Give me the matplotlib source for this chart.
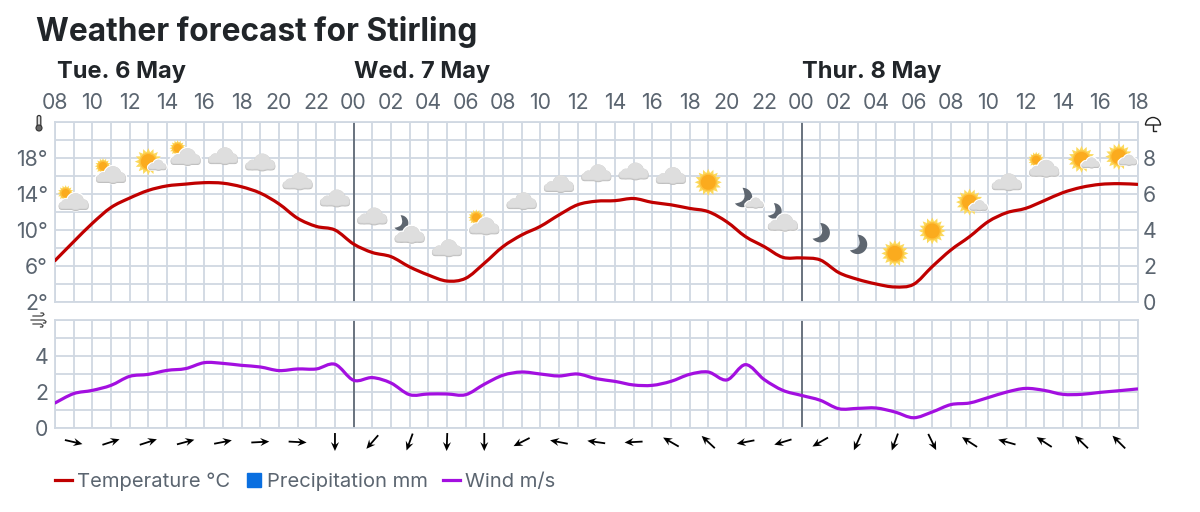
import numpy as np
import matplotlib
matplotlib.use('Agg')
import matplotlib.pyplot as plt
from matplotlib.lines import Line2D
from matplotlib.path import Path
from matplotlib.patches import PathPatch, Circle, FancyBboxPatch, Wedge
from matplotlib.transforms import Affine2D

plt.rcParams['font.family'] = ['Inter', 'DejaVu Sans']

# hourly values, Tue 08:00 to Thu 18:00
temperature = [6.6, 8.7, 10.74, 12.5, 13.55, 14.4, 14.9, 15.1, 15.26, 15.2, 14.8, 14.1, 12.9, 11.3, 10.4, 10.0,
               8.44, 7.5, 7.04, 5.9, 5.0, 4.33, 4.63, 6.3, 8.15, 9.44, 10.4, 11.67, 12.8, 13.2, 13.26, 13.5,
               13.07, 12.8, 12.4, 12.04, 10.9, 9.26, 8.15, 6.96, 6.9,
               6.67, 5.26, 4.52, 4.0, 3.67, 3.96, 5.93, 7.78, 9.26, 10.93, 11.93, 12.4, 13.26, 14.15, 14.74,
               15.07, 15.15, 15.07]
wind = [1.39, 1.91, 2.09, 2.37, 2.87, 2.98, 3.2, 3.3, 3.63, 3.59, 3.48, 3.39, 3.19, 3.28, 3.28, 3.54,
        2.65, 2.8, 2.5, 1.85, 1.89, 1.89, 1.85, 2.43, 2.93, 3.11, 3.0, 2.89, 3.0, 2.74, 2.59, 2.39,
        2.37, 2.59, 2.98, 3.11, 2.67, 3.52, 2.69, 2.09, 1.81,
        1.54, 1.07, 1.09, 1.11, 0.89, 0.57, 0.89, 1.3, 1.39, 1.69, 2.0, 2.2, 2.09, 1.87, 1.87,
        1.98, 2.07, 2.17]

hour_labels = ['08', '10', '12', '14', '16', '18', '20', '22', '00', '02', '04', '06', '08', '10', '12', '14',
               '16', '18', '20', '22', '00', '02', '04', '06', '08', '10', '12', '14', '16', '18']
day_names = ['Tue. 6 May', 'Wed. 7 May', 'Thur. 8 May']
midnights = [16, 40]

# one symbol and one arrow every second hour, starting 09:00
symbols = ['sun_cloud', 'sun_cloud', 'big_sun_cloud', 'sun_cloud', 'cloud', 'cloud', 'cloud', 'cloud',
           'cloud', 'moon_cloud', 'cloud', 'sun_cloud', 'cloud', 'cloud', 'cloud', 'cloud', 'cloud', 'sun',
           'big_moon_cloud', 'moon_cloud', 'moon', 'moon', 'sun', 'sun', 'big_sun_cloud', 'cloud',
           'sun_cloud', 'big_sun_cloud', 'big_sun_cloud']
symbol_levels = [13.2, 16.2, 17.6, 18.2, 18.3, 17.6, 15.5, 13.6, 11.6, 9.56, 8.07, 10.5, 13.3, 15.2, 16.4,
                 16.6, 16.1, 15.3, 13.5, 10.9, 9.7, 8.4, 7.4, 9.9, 13.1, 15.4, 16.9, 17.85, 18.15]
wind_dirs = [-13, 18, 18, 15, 11, 3, -3, -90, 229, 250, 268, 270, 207, 169, 172, 183, 150, 137, 191, 197,
             210, 246, 250, 296, 147, 164, 147, 136, 135]

RED = '#c00000'
PURPLE = '#a30fe0'
BLUE = '#0a6fe0'
GRID = '#d0d8e2'
TEXT = '#5b6570'
DARK = '#212529'

W, H = 1200, 512
fig = plt.figure(figsize=(W / 100, H / 100), dpi=100)
pix = Affine2D().scale(1, -1).translate(0, H)  # image pixel coords


def box(top, bottom):
    return [55 / W, 1 - bottom / H, 1082.5 / W, (bottom - top) / H]


def smooth(x, y):
    """Catmull-Rom through the read points, as bezier segments"""
    pts = np.column_stack([x, y])
    verts = [pts[0]]
    for i in range(len(pts) - 1):
        p0 = pts[max(i - 1, 0)]
        p3 = pts[min(i + 2, len(pts) - 1)]
        verts += [pts[i] + (pts[i + 1] - p0) / 6, pts[i + 1] - (p3 - pts[i]) / 6, pts[i + 1]]
    codes = [Path.MOVETO] + [Path.CURVE4] * (len(verts) - 1)
    return Path(verts, codes)


def setup_grid(ax, ylim, step):
    ax.set_xlim(0, 58)
    ax.set_ylim(*ylim)
    ax.set_xticks(np.arange(0, 59))
    ax.set_yticks(np.arange(ylim[0], ylim[1] + step, step))
    ax.grid(True, color=GRID, lw=1.3)
    ax.set_axisbelow(True)
    ax.tick_params(length=0, labelcolor=TEXT, labelsize=15.3)
    for s in ax.spines.values():
        s.set_color(GRID)
        s.set_linewidth(1.3)
    for m in midnights:
        ax.axvline(m, color='#4d5763', lw=1.1, zorder=1.5)


def add(ax, patch):
    patch.set_clip_on(False)
    ax.add_artist(patch)


def cloud_shape(ax, tt, col, edge=0):
    ec = col if edge else 'none'
    add(ax, FancyBboxPatch((-15, -8), 30, 7, boxstyle='round,pad=0,rounding_size=3.5', fc=col, ec=ec, lw=edge,
                           transform=tt))
    add(ax, Circle((2, -0.5), 8.5, fc=col, ec=ec, lw=edge, transform=tt))
    add(ax, Circle((-8, -3), 4.8, fc=col, ec=ec, lw=edge, transform=tt))
    add(ax, Circle((10, -3), 4.8, fc=col, ec=ec, lw=edge, transform=tt))


def draw_cloud(ax, t, k=1.0, halo=False):
    if halo:
        cloud_shape(ax, Affine2D().scale(k) + t, 'white', edge=2)
    cloud_shape(ax, Affine2D().scale(k).translate(0, -0.8) + t, '#bcbcbc')
    cloud_shape(ax, Affine2D().scale(k) + t, '#d3d3d3')
    cloud_shape(ax, Affine2D().scale(k * 0.95).translate(0, 0.4) + t, '#dedede')


def draw_sun(ax, t, k=1.0):
    ang = np.linspace(0, 2 * np.pi, 33)[:-1]
    rad = np.where(np.arange(32) % 2 == 0, 13.5, 9.5)
    star = np.column_stack([rad * np.cos(ang), rad * np.sin(ang)])
    tt = Affine2D().scale(k) + t
    add(ax, PathPatch(Path(np.vstack([star, star[0]]), closed=True), fc='#fcd95c', ec='none', transform=tt))
    add(ax, Circle((0, 0), 8.2, fc='#fbab1e', ec='#fdc23e', lw=1, transform=tt))


def draw_moon(ax, t, k=1.0):
    ang = np.radians(np.linspace(90, -142, 30))
    arc = np.column_stack([9.7 * np.cos(ang), 9.7 * np.sin(ang)])
    verts = list(arc) + [(6.5, -4.5), arc[0]]
    codes = [Path.MOVETO] + [Path.LINETO] * 29 + [Path.CURVE3, Path.CURVE3]
    add(ax, PathPatch(Path(verts, codes), fc='#5e6670', ec='none', transform=Affine2D().scale(k) + t))


def draw_symbol(ax, kind, cx, cy):
    t = Affine2D().translate(cx, cy)
    if kind == 'cloud':
        draw_cloud(ax, t)
    elif kind == 'sun':
        draw_sun(ax, t)
    elif kind == 'moon':
        draw_moon(ax, t)
    elif kind == 'sun_cloud':
        draw_sun(ax, Affine2D().translate(-8, 8) + t, 0.6)
        draw_cloud(ax, t, halo=True)
    elif kind == 'moon_cloud':
        draw_moon(ax, Affine2D().translate(-9, 11) + t, 0.8)
        draw_cloud(ax, t, halo=True)
    elif kind == 'big_sun_cloud':
        draw_sun(ax, t)
        draw_cloud(ax, Affine2D().translate(9, -3) + t, 0.6, halo=True)
    elif kind == 'big_moon_cloud':
        draw_moon(ax, Affine2D().translate(-3, 1) + t, 1.0)
        draw_cloud(ax, Affine2D().translate(9, -4) + t, 0.6, halo=True)


hours = np.arange(len(temperature))
symbol_hours = np.arange(1, 58, 2)

# temperature panel
ax = fig.add_axes(box(122, 302))
setup_grid(ax, (2, 22), 2)
ax.set_yticklabels(['2°', '', '6°', '', '10°', '', '14°', '', '18°', '', ''])
ax.set_xticklabels([hour_labels[i // 2] if i % 2 == 0 else '' for i in range(59)])
ax.xaxis.tick_top()
ax.tick_params(axis='x', pad=6.5)
ax.tick_params(axis='y', pad=5)
ax.add_patch(PathPatch(smooth(hours, temperature), fc='none', ec=RED, lw=2.3, capstyle='round', zorder=3))

ax2 = ax.twinx()
ax2.set_ylim(0, 10)
ax2.set_yticks([0, 2, 4, 6, 8])
ax2.tick_params(length=0, labelcolor=TEXT, labelsize=15.3, pad=4)
for s in ax2.spines.values():
    s.set_visible(False)

for kind, x, level in zip(symbols, symbol_hours, symbol_levels):
    # level is on the temperature scale, so take the position from ax
    cx, cy = ax.transData.transform((x, level))
    draw_symbol(ax2, kind, cx, cy)

# day headings
for name, x in zip(day_names, [0.1, 16, 40]):
    ax.text(x, 1.244, name, transform=ax.get_xaxis_transform(), fontsize=17, fontweight='bold',
            color=DARK, ha='left', va='baseline')

# wind panel
ax3 = fig.add_axes(box(320, 428))
setup_grid(ax3, (0, 6), 1)
ax3.set_yticklabels(['0', '', '2', '', '4', '', ''])
ax3.set_xticklabels([])
ax3.tick_params(axis='y', pad=5)
ax3.add_patch(PathPatch(smooth(hours, wind), fc='none', ec=PURPLE, lw=2.3, capstyle='round', zorder=3))

rad = np.radians(wind_dirs)
ax3.quiver(symbol_hours, np.full(len(symbol_hours), -0.78), np.cos(rad), np.sin(rad), angles='uv',
           scale_units='inches', scale=1 / 0.18, pivot='middle', units='inches', width=0.018,
           headwidth=4.5, headlength=5, headaxislength=3.6, color='black', clip_on=False)

# small axis glyphs, drawn in image pixels
fig.add_artist(FancyBboxPatch((37.2, 115.5), 3.6, 12.5, boxstyle='round,pad=0,rounding_size=1.8', fc='#dddddd',
                              ec='#333333', lw=0.9, transform=pix))
fig.add_artist(Circle((39, 128), 3, fc='#666666', ec='#333333', lw=0.8, transform=pix))
fig.add_artist(Wedge((1153, 125), 7.5, 180, 360, fc='white', ec='#222222', lw=1, transform=pix))
fig.add_artist(Line2D([1153, 1153, 1155.5], [125, 131, 131], color='#222222', lw=1, transform=pix))
wind_x = [[33, 42, 44, 43, 41], [31, 44, 46, 45.5, 43.5], [33, 41, 43, 42.5, 40.5]]
wind_y = [[316, 316, 314.5, 313, 313], [320, 320, 321.5, 323, 323], [324, 324, 325.5, 327, 327]]
for gx, gy in zip(wind_x, wind_y):
    fig.add_artist(Line2D(gx, gy, color='#444444', lw=0.9, transform=pix))

fig.text(36 / W, 1 - 41 / H, 'Weather forecast for Stirling', fontsize=22.8, fontweight='bold', color=DARK)

handles = [Line2D([], [], color=RED, lw=2.3),
           Line2D([], [], color=BLUE, marker='s', ms=10.5, ls='none'),
           Line2D([], [], color=PURPLE, lw=2.3)]
fig.legend(handles, ['Temperature °C', 'Precipitation mm', 'Wind m/s'], ncol=3, frameon=False, loc='lower left',
           bbox_to_anchor=(55 / W, 1 - 491 / H), fontsize=14.55, labelcolor=TEXT, handlelength=0.84,
           handletextpad=0.25, columnspacing=0.74, borderpad=0, borderaxespad=0)

fig.savefig('out.png', dpi=100)
